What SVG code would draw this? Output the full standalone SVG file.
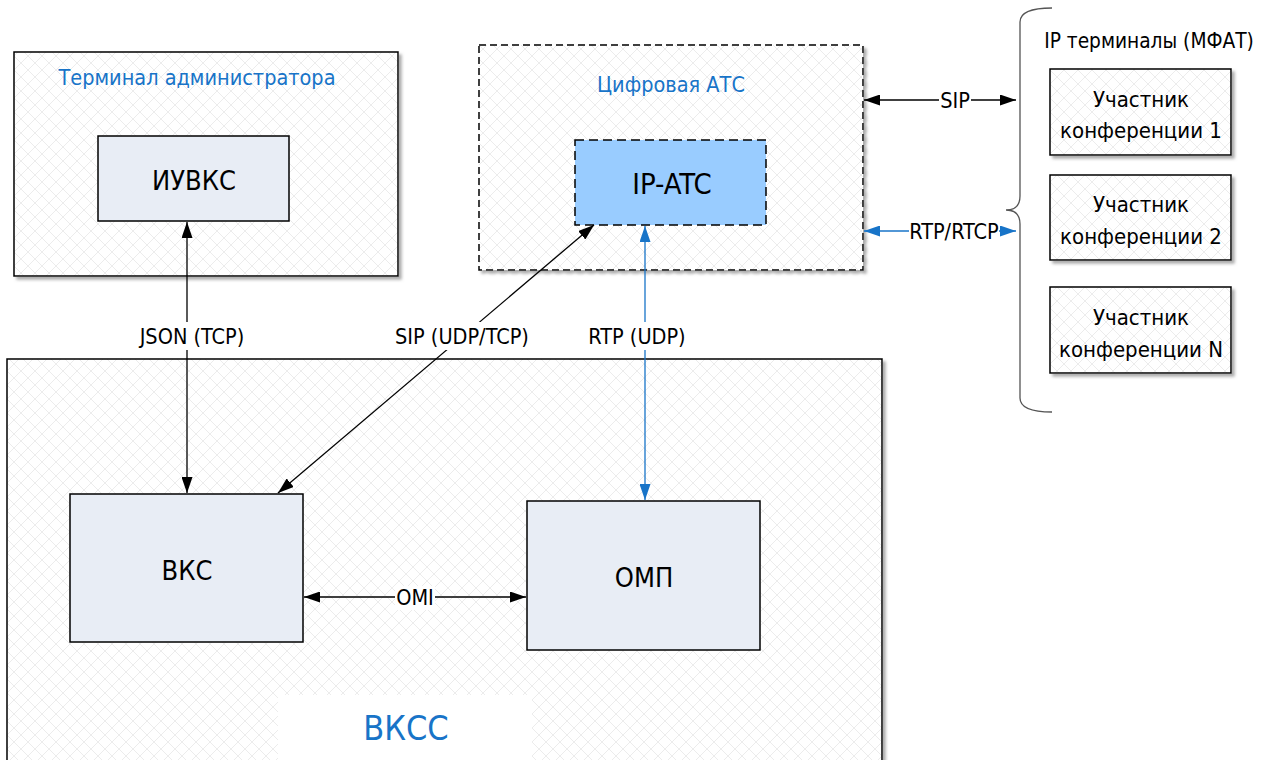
<svg xmlns="http://www.w3.org/2000/svg" width="1268" height="760" viewBox="0 0 1268 760">
<defs>
<pattern id="hatch" width="14" height="14" patternUnits="userSpaceOnUse">
<rect width="14" height="14" fill="#ffffff"/>
<path d="M0 0L14 14M14 0L0 14" stroke="#ececec" stroke-width="1"/>
</pattern>
<filter id="sh" x="-5%" y="-5%" width="112%" height="115%">
<feDropShadow dx="3" dy="3" stdDeviation="1.5" flood-color="#777" flood-opacity="0.6"/>
</filter>
<marker id="ab" viewBox="0 0 16 11" refX="16" refY="5.5" markerWidth="16" markerHeight="11" markerUnits="userSpaceOnUse" orient="auto-start-reverse">
<path d="M0 0L16 5.5L0 11z" fill="#000"/>
</marker>
<marker id="au" viewBox="0 0 16 11" refX="16" refY="5.5" markerWidth="16" markerHeight="11" markerUnits="userSpaceOnUse" orient="auto-start-reverse">
<path d="M0 0L16 5.5L0 11z" fill="#1874c8"/>
</marker>
</defs>
<style>
text{font-family:"DejaVu Sans Condensed","Liberation Sans",sans-serif;text-anchor:middle;fill:#000}
.cont{fill:url(#hatch);stroke:#000;stroke-width:1.5;filter:url(#sh)}
.blk{fill:#e8edf5;stroke:#000;stroke-width:1.5}
.title{fill:#1874c8;font-size:21.5px}
.big{font-size:27px}
.lbl{font-size:21.5px}
.part{font-size:22px}
.cb{stroke:#000;stroke-width:1.3;fill:none}
.cu{stroke:#1874c8;stroke-width:1.3;fill:none}
.lb{fill:#fff}
</style>
<rect width="1268" height="760" fill="#fff"/>

<g id="vkss">
<rect class="cont" x="7" y="359" width="875" height="420"/>
<rect x="278" y="695" width="254" height="70" fill="#fff"/>
<text x="406" y="740" style="fill:#1874c8;font-size:34px">ВКСС</text>
</g>

<g id="terminal-admin">
<rect class="cont" x="14" y="52" width="384" height="224"/>
<text class="title" x="197" y="85">Терминал администратора</text>
</g>

<g id="iuvks">
<rect class="blk" x="98" y="136" width="191" height="85"/>
<text class="big" x="194" y="190">ИУВКС</text>
</g>

<g id="digital-ats">
<rect class="cont" x="479" y="45" width="384" height="225" stroke-dasharray="7 4"/>
<text class="title" x="671" y="92">Цифровая АТС</text>
</g>

<g id="ip-atc">
<rect x="575" y="140" width="191" height="85" fill="#99ccff" stroke="#000" stroke-width="1.5" stroke-dasharray="9 5"/>
<text x="672" y="194" style="font-size:29px">IP-ATC</text>
</g>

<g id="vks">
<rect class="blk" x="70" y="494" width="233" height="148"/>
<text class="big" x="187" y="580">ВКС</text>
</g>

<g id="omp">
<rect class="blk" x="527" y="501" width="233" height="149"/>
<text class="big" x="644" y="587">ОМП</text>
</g>

<g id="ip-terminals">
<path d="M1052 8Q1020 8 1020 22L1020 196Q1020 210 1006 210Q1020 210 1020 224L1020 398Q1020 412 1052 412" fill="none" stroke="#555" stroke-width="1.3"/>
<text x="1149" y="48" style="font-size:20.7px">IP терминалы (МФАТ)</text>
</g>

<g id="participant-1">
<rect class="cont" x="1050" y="69" width="181" height="86"/>
<text class="part" x="1141" y="107">Участник</text>
<text class="part" x="1141" y="138">конференции 1</text>
</g>
<g id="participant-2">
<rect class="cont" x="1050" y="175" width="181" height="85"/>
<text class="part" x="1141" y="212">Участник</text>
<text class="part" x="1141" y="244">конференции 2</text>
</g>
<g id="participant-n">
<rect class="cont" x="1050" y="287" width="181" height="86"/>
<text class="part" x="1141" y="325">Участник</text>
<text class="part" x="1141" y="357">конференции N</text>
</g>

<g id="connectors">
<line class="cb" x1="187" y1="222" x2="187" y2="493" marker-start="url(#ab)" marker-end="url(#ab)"/>
<rect class="lb" x="134" y="322" width="116" height="28"/>
<text class="lbl" x="192" y="344">JSON (TCP)</text>

<line class="cb" x1="594" y1="225" x2="278" y2="493" marker-start="url(#ab)" marker-end="url(#ab)"/>
<rect class="lb" x="394" y="322" width="136" height="28"/>
<text class="lbl" x="462" y="344">SIP (UDP/TCP)</text>

<line class="cu" x1="645" y1="226" x2="645" y2="500" marker-start="url(#au)" marker-end="url(#au)"/>
<rect class="lb" x="582" y="322" width="110" height="28"/>
<text class="lbl" x="637" y="344">RTP (UDP)</text>

<line class="cb" x1="304" y1="597" x2="526" y2="597" marker-start="url(#ab)" marker-end="url(#ab)"/>
<rect class="lb" x="395" y="586" width="40" height="24"/>
<text class="lbl" x="415" y="605">OMI</text>

<line class="cb" x1="864" y1="100" x2="1016" y2="100" marker-start="url(#ab)" marker-end="url(#ab)"/>
<rect class="lb" x="939" y="89" width="32" height="24"/>
<text class="lbl" x="955" y="108">SIP</text>

<line class="cu" x1="864" y1="231" x2="1016" y2="231" marker-start="url(#au)" marker-end="url(#au)"/>
<rect class="lb" x="909" y="220" width="90" height="24"/>
<text class="lbl" x="954" y="239">RTP/RTCP</text>
</g>
</svg>
